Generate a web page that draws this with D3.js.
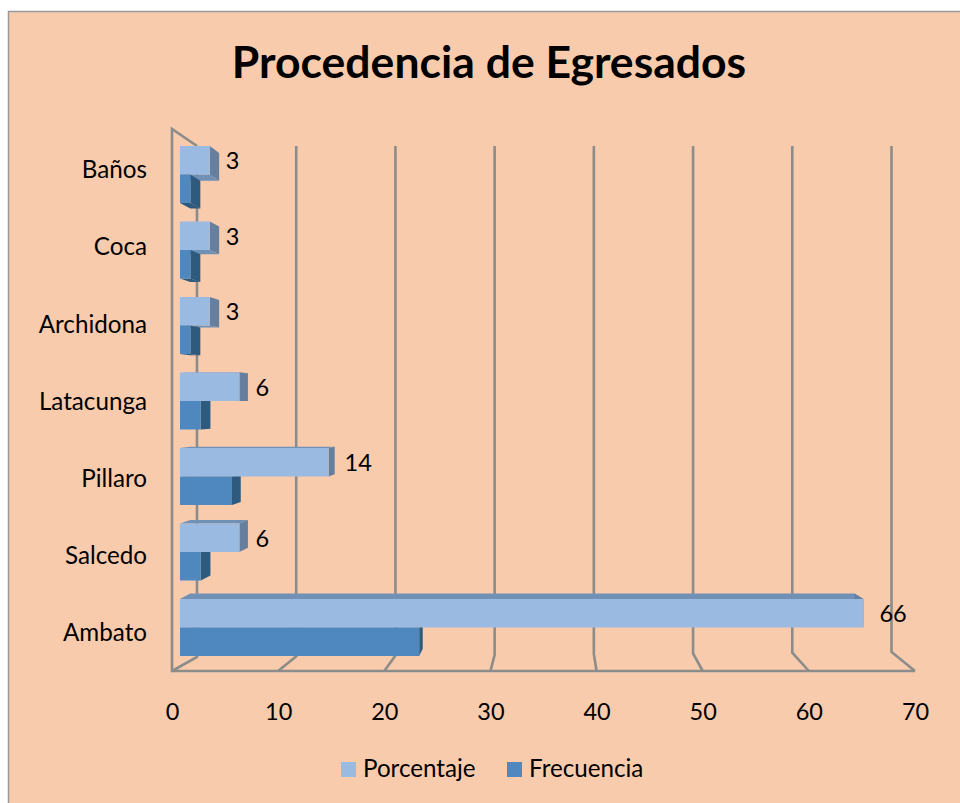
<!DOCTYPE html>
<html lang="en">
<head>
<meta charset="UTF-8">
<title>Procedencia de Egresados</title>
<style>
  html, body { margin: 0; padding: 0; background: #fff; }
  svg { display: block; font-family: Lato, "Open Sans", sans-serif; }
</style>
</head>
<body>
<div id="chart"></div>
<script src="https://d3js.org/d3.v7.min.js"></script>
<script>
// data, top to bottom as in the chart
var categories = ["Baños", "Coca", "Archidona", "Latacunga", "Pillaro", "Salcedo", "Ambato"];
var porcentaje = [2.86, 2.86, 2.86, 5.71, 14.29, 5.71, 65.71];
var frecuencia = [1, 1, 1, 2, 5, 2, 23];
var xTicks = [0, 10, 20, 30, 40, 50, 60, 70];
var seriesNames = ["Porcentaje", "Frecuencia"];

var colors = {
    Porcentaje: { front: "#9BBAE2", side: "#667F9E", cap: "#7090B6" },
    Frecuencia: { front: "#4F88BE", side: "#2E5A7E", cap: "#2E5A7E" }
};
var lineColor = "#8C8C8A";

var svg = d3.select("#chart").append("svg").attr("width", 960).attr("height", 803);

// chart area
svg.append("rect")
    .attr("x", 8.5).attr("y", 11.5)
    .attr("width", 960).attr("height", 800)
    .attr("fill", "#F8CBAD")
    .attr("stroke", "#999").attr("stroke-width", 1.5);

svg.append("text")
    .attr("x", 489).attr("y", 78)
    .attr("text-anchor", "middle")
    .attr("font-size", 44.5).attr("font-weight", 700)
    .attr("fill", "#000")
    .text("Procedencia de Egresados");

// scales: the front edge of the floor, the back wall and the bar fronts differ because of the 3d view
var xFront = d3.scaleLinear().domain([0, 70]).range([172, 915]);
var xBack = d3.scaleLinear().domain([0, 70]).range([197, 891.5]);
var xBar = d3.scaleLinear().domain([0, 70]).range([180, 908]);
var yBack = d3.scaleLinear().domain([0, 70]).range([657, 652]);
var yBar = d3.scaleBand().domain(categories).range([146, 656]).paddingInner(0.245);
var yLabel = d3.scalePoint().domain(categories).range([170, 633]);

// vanishing point for the bar depth
var vp = [545, 400], barDepth = 0.028;
function back(p) {
    return [p[0] + barDepth * (vp[0] - p[0]), p[1] + barDepth * (vp[1] - p[1])];
}
function poly(pts) {
    return pts.map(function (p) { return p.join(","); }).join(" ");
}

// walls and floor
var grid = svg.append("g").attr("fill", "none").attr("stroke", lineColor).attr("stroke-width", 2.6);
grid.selectAll(".wall").data(xTicks).enter().append("polyline")
    .attr("class", "wall")
    .attr("points", function (d) {
        return poly([[xBack(d), 146], [xBack(d), yBack(d)], [xFront(d), 671]]);
    });
grid.append("polyline")
    .attr("points", poly([[xBack(0), 146], [172, 129], [172, 671], [xFront(70), 671]]));

// bars
var rows = [];
categories.forEach(function (c, i) {
    var h = yBar.bandwidth() / 2;
    var pct = { cat: c, name: "Porcentaje", value: porcentaje[i], y0: yBar(c), y1: yBar(c) + h };
    var freq = { cat: c, name: "Frecuencia", value: frecuencia[i], y0: yBar(c) + h, y1: yBar(c) + 2 * h };
    // the bar nearer to the vanishing point is painted first
    if (pct.y1 < vp[1]) rows.push(pct, freq); else rows.push(freq, pct);
});

var bars = svg.append("g").selectAll("g").data(rows).enter().append("g");

// top face above the vanishing point is hidden, below it the bottom face is hidden
bars.append("polygon")
    .attr("fill", function (d) { return colors[d.name].cap; })
    .attr("points", function (d) {
        var y = d.y1 < vp[1] ? d.y1 : d.y0;
        var a = [xBar(0), y], b = [xBar(d.value), y];
        return poly([a, b, back(b), back(a)]);
    });
bars.append("polygon")
    .attr("fill", function (d) { return colors[d.name].side; })
    .attr("points", function (d) {
        var a = [xBar(d.value), d.y0], b = [xBar(d.value), d.y1];
        return poly([a, b, back(b), back(a)]);
    });
bars.append("rect")
    .attr("x", xBar(0))
    .attr("y", function (d) { return d.y0; })
    .attr("width", function (d) { return xBar(d.value) - xBar(0); })
    .attr("height", function (d) { return d.y1 - d.y0; })
    .attr("fill", function (d) { return colors[d.name].front; });

// value labels
svg.append("g").selectAll("text").data(categories).enter().append("text")
    .attr("x", function (d, i) { return xBar(porcentaje[i]) + 16; })
    .attr("y", function (d) { return yBar(d) + yBar.bandwidth() / 4 + 1; })
    .attr("dy", "0.35em")
    .attr("font-size", 23.5)
    .attr("fill", "#000")
    .text(function (d, i) { return d3.format(".0f")(porcentaje[i]); });

// axes, labels only
var xAxis = svg.append("g")
    .attr("transform", "translate(0,703)")
    .call(d3.axisBottom(xFront).tickValues(xTicks).tickSize(0).tickPadding(0));
var yAxis = svg.append("g")
    .attr("transform", "translate(147,0)")
    .call(d3.axisLeft(yLabel).tickSize(0).tickPadding(0));
xAxis.selectAll("text").attr("font-size", 23.5);
yAxis.selectAll("text").attr("font-size", 24.2);
[xAxis, yAxis].forEach(function (a) {
    a.select(".domain").remove();
    a.selectAll("text").attr("font-family", "Lato").attr("fill", "#000");
});

// legend
var legendX = d3.scaleOrdinal().domain(seriesNames).range([341, 507]);
var legend = svg.append("g").selectAll("g").data(seriesNames).enter().append("g")
    .attr("transform", function (d) { return "translate(" + legendX(d) + ",762)"; });
legend.append("rect")
    .attr("width", 15).attr("height", 15)
    .attr("fill", function (d) { return colors[d].front; });
legend.append("text")
    .attr("x", 22).attr("y", 15)
    .attr("font-size", 24.2)
    .attr("fill", "#000")
    .text(function (d) { return d; });
</script>
</body>
</html>
